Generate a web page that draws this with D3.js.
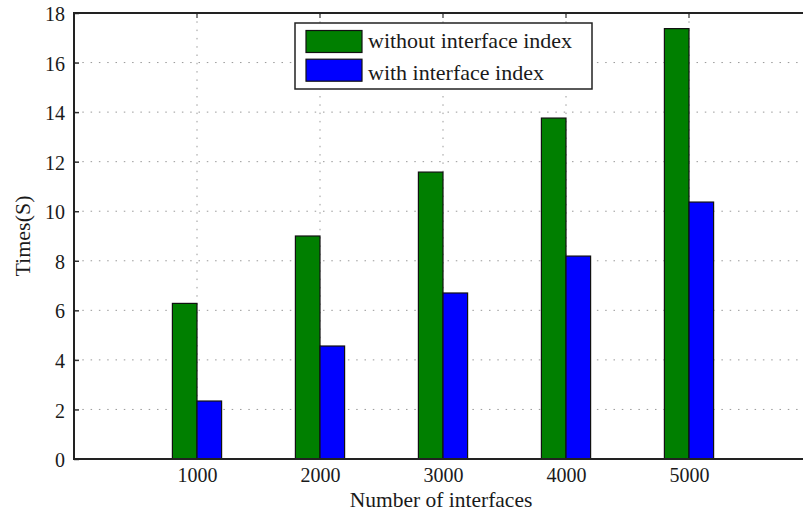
<!DOCTYPE html>
<html>
<head>
<meta charset="utf-8">
<script src="https://cdn.jsdelivr.net/npm/d3@7"></script>
<style>
  body { margin: 0; background: #fff; }
  text { font-family: "Liberation Serif", "Times New Roman", serif; fill: #1a1a1a; }
</style>
</head>
<body>
<div id="chart"></div>
<script>
const categories = [1000, 2000, 3000, 4000, 5000];
const withoutIndex = [6.28, 9.0, 11.58, 13.76, 17.37];
const withIndex = [2.34, 4.56, 6.7, 8.19, 10.37];
const yTicks = [0, 2, 4, 6, 8, 10, 12, 14, 16, 18];
const seriesNames = ["without interface index", "with interface index"];
const colors = ["#007f00", "#0000ff"];

const width = 803,
  height = 513;
const plotLeft = 74,
  plotTop = 13,
  plotBottom = 459,
  plotRight = 812;

const svg = d3
  .select("#chart")
  .append("svg")
  .attr("width", width)
  .attr("height", height);

const x = d3.scaleLinear().domain([0, 6000]).range([plotLeft, plotRight]);
const y = d3.scaleLinear().domain([0, 18]).range([plotBottom, plotTop]);
const barW = 24.6;

// grid
svg
  .append("g")
  .selectAll("line")
  .data(yTicks.slice(1, -1))
  .enter()
  .append("line")
  .attr("x1", plotLeft)
  .attr("x2", plotRight)
  .attr("y1", (d) => y(d))
  .attr("y2", (d) => y(d))
  .attr("stroke", "#999")
  .attr("stroke-dasharray", "1.5,6.8");
svg
  .append("g")
  .selectAll("line")
  .data(categories)
  .enter()
  .append("line")
  .attr("x1", (d) => x(d))
  .attr("x2", (d) => x(d))
  .attr("y1", plotTop)
  .attr("y2", plotBottom)
  .attr("stroke", "#999")
  .attr("stroke-dasharray", "1.5,6.8");

// bars
const series = [withoutIndex, withIndex];
series.forEach(function (vals, s) {
  svg
    .append("g")
    .selectAll("rect")
    .data(vals)
    .enter()
    .append("rect")
    .attr("x", (d, i) => x(categories[i]) - barW + s * barW)
    .attr("y", (d) => y(d))
    .attr("width", barW)
    .attr("height", (d) => y(0) - y(d))
    .attr("fill", colors[s])
    .attr("stroke", "#111")
    .attr("stroke-width", 1.2);
});

// axes
const yAxis = d3.axisLeft(y).tickValues(yTicks).tickSize(-5).tickPadding(9);
svg
  .append("g")
  .attr("transform", `translate(${plotLeft},0)`)
  .call(yAxis)
  .call((g) => g.select(".domain").remove())
  .call((g) => g.selectAll("line").attr("stroke", "#333").attr("stroke-width", 1.5))
  .call((g) =>
    g.selectAll("text").style("font-size", "20px").attr("dy", "0.38em").attr("fill", "#1a1a1a")
  );

const xAxis = d3
  .axisBottom(x)
  .tickValues(categories)
  .tickFormat(d3.format("d"))
  .tickSize(0)
  .tickPadding(9);
svg
  .append("g")
  .attr("transform", `translate(0,${plotBottom})`)
  .call(xAxis)
  .call((g) => g.select(".domain").remove())
  .call((g) => g.selectAll("text").style("font-size", "20px").attr("fill", "#1a1a1a"));

// top ticks
svg
  .append("g")
  .selectAll("line")
  .data(categories)
  .enter()
  .append("line")
  .attr("x1", (d) => x(d))
  .attr("x2", (d) => x(d))
  .attr("y1", plotTop)
  .attr("y2", plotTop + 5)
  .attr("stroke", "#333")
  .attr("stroke-width", 1.2);

// frame
svg
  .append("path")
  .attr("d", `M${plotRight},${plotTop}H${plotLeft}V${plotBottom}H${plotRight}`)
  .attr("fill", "none")
  .attr("stroke", "#222")
  .attr("stroke-width", 2);

// axis titles
svg
  .append("text")
  .attr("x", 441)
  .attr("y", 507)
  .attr("text-anchor", "middle")
  .style("font-size", "21.5px")
  .text("Number of interfaces");
svg
  .append("text")
  .attr("transform", "translate(30,236) rotate(-90)")
  .attr("text-anchor", "middle")
  .style("font-size", "22px")
  .text("Times(S)");

// legend
const lg = svg.append("g").attr("transform", "translate(295,23)");
lg.append("rect")
  .attr("width", 297)
  .attr("height", 66)
  .attr("fill", "#fff")
  .attr("stroke", "#222")
  .attr("stroke-width", 1.5);
seriesNames.forEach(function (name, i) {
  lg.append("rect")
    .attr("x", 11)
    .attr("y", 7.5 + i * 28.7)
    .attr("width", 56)
    .attr("height", 22)
    .attr("fill", colors[i])
    .attr("stroke", "#111")
    .attr("stroke-width", 1.2);
  lg.append("text")
    .attr("x", 73)
    .attr("y", 25 + i * 32)
    .style("font-size", "22px")
    .text(name);
});
</script>
</body>
</html>
